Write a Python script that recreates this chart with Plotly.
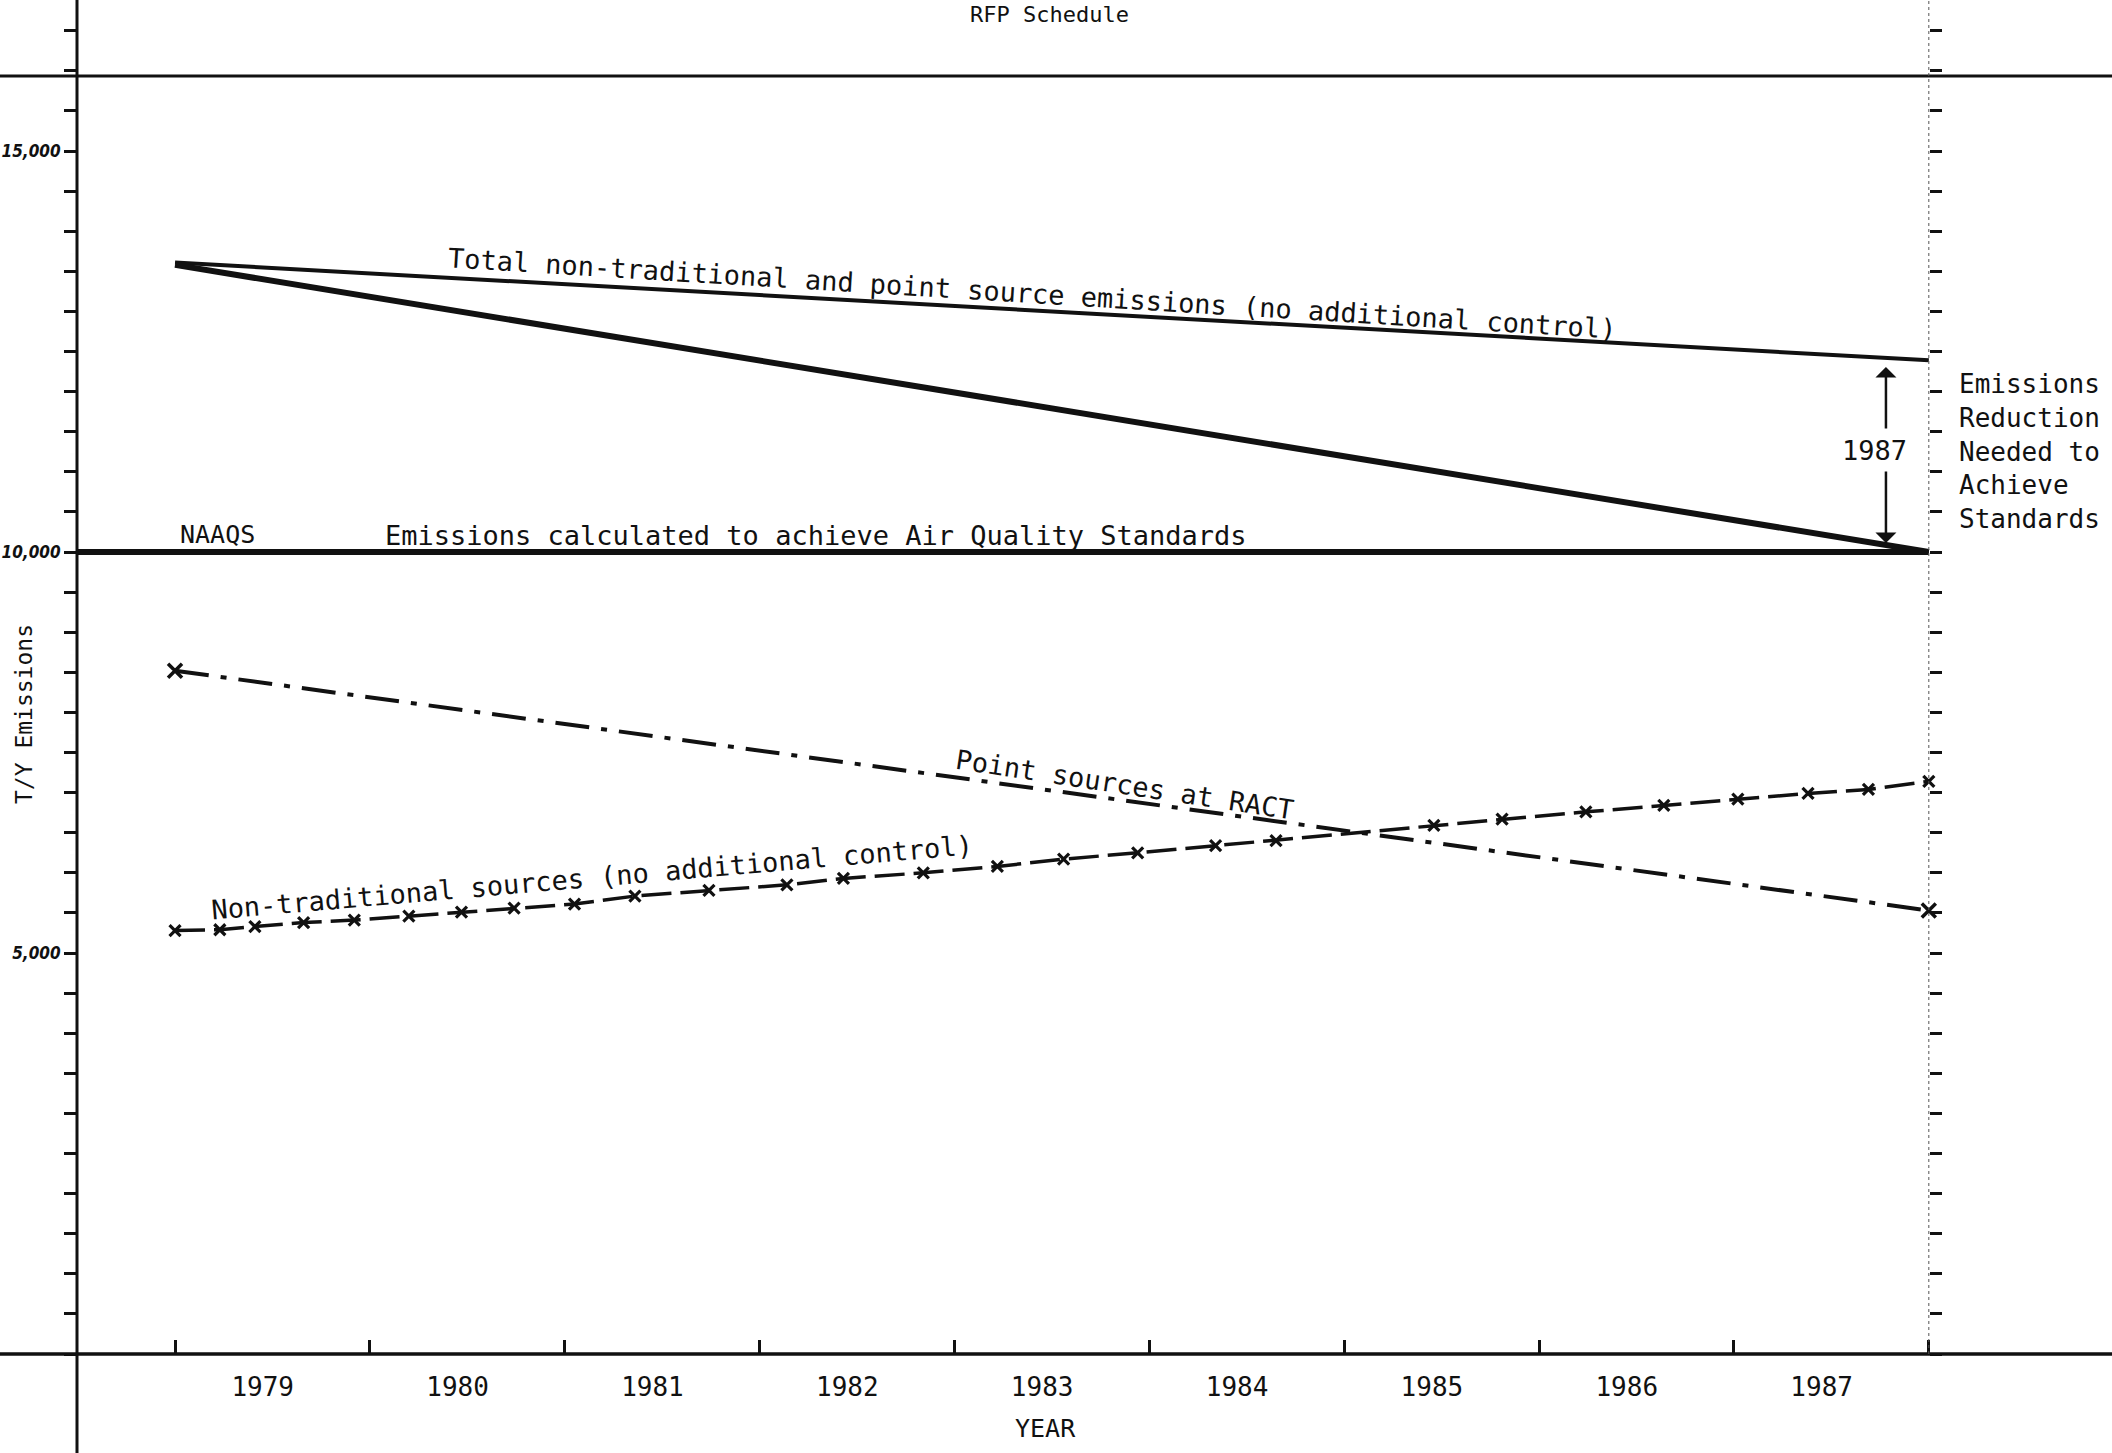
import plotly.graph_objects as go

# ---------------- data ----------------
line_years = [1979.0, 1988.0]
total_no_control = [13610, 12390]          # Total non-traditional + point sources
reduction_path = [13580, 10000]            # path to standards
naaqs_years = [1978.5, 1988.0]
naaqs_level = [10000, 10000]
point_ract_years = [1979.0, 1988.0]
point_ract = [8520, 5530]
nontrad_years = [1979.00, 1979.23, 1979.41, 1979.66, 1979.92, 1980.20, 1980.47, 1980.74,
                 1981.05, 1981.36, 1981.74, 1982.14, 1982.43, 1982.84, 1983.22, 1983.56,
                 1983.94, 1984.34, 1984.65, 1985.46, 1985.81, 1986.24, 1986.64, 1987.02,
                 1987.38, 1987.69, 1988.00]
nontrad = [5280, 5290, 5330, 5380, 5410, 5460, 5510, 5560, 5610, 5710, 5780, 5850, 5930,
           6000, 6080, 6170, 6250, 6340, 6400, 6590, 6670, 6760, 6840, 6920, 6990, 7040, 7140]

year_labels = ["1979", "1980", "1981", "1982", "1983", "1984", "1985", "1986", "1987"]
year_bounds = [1979, 1980, 1981, 1982, 1983, 1984, 1985, 1986, 1987, 1988]
y_tick_values = list(range(0, 17000, 500))
y_label_values = {5000: "5,000", 10000: "10,000", 15000: "15,000"}

# ---------------- layout constants ----------------
W, H = 2112, 1453
ML, MR, MT, MB = 77, 0, 0, 99
X_MIN, X_MAX = 1978.497, 1988.94
Y_MIN, Y_MAX = 0, 16883
TOP_FRAME = 15935
LABEL_OFFSET = 0.45
FONT = "DejaVu Sans Mono, Liberation Mono, monospace"
INK = "#111111"
TXT = 27

label_pos = [int(l) + LABEL_OFFSET for l in year_labels]

fig = go.Figure()

fig.add_trace(go.Scatter(x=line_years, y=total_no_control, mode="lines",
                         line=dict(color=INK, width=4), hoverinfo="skip"))
fig.add_trace(go.Scatter(x=line_years, y=reduction_path, mode="lines",
                         line=dict(color=INK, width=6), hoverinfo="skip"))
fig.add_trace(go.Scatter(x=naaqs_years, y=naaqs_level, mode="lines",
                         line=dict(color=INK, width=6), hoverinfo="skip"))
fig.add_trace(go.Scatter(x=point_ract_years, y=point_ract, mode="lines+markers",
                         line=dict(color=INK, width=4, dash="34px,12px,6px,12px"),
                         marker=dict(symbol="x-thin", size=14, line=dict(width=3.5, color=INK)),
                         hoverinfo="skip"))
fig.add_trace(go.Scatter(x=nontrad_years, y=nontrad, mode="lines+markers",
                         line=dict(color=INK, width=3.5, dash="30px,9px"),
                         marker=dict(symbol="x-thin", size=11, line=dict(width=3.2, color=INK)),
                         hoverinfo="skip"))
# invisible trace for label axis
fig.add_trace(go.Scatter(x=[X_MIN, X_MAX], y=[Y_MIN, Y_MIN], xaxis="x2", mode="lines",
                         line=dict(width=0), hoverinfo="skip", showlegend=False))

ann = []
def txt(x, y, s, angle=0, size=TXT, **kw):
    ann.append(dict(x=x, y=y, xref="x", yref="y", text=s, showarrow=False, textangle=angle,
                    font=dict(family=FONT, size=size, color=INK), **kw))

txt(1983.40, 13222, "Total non-traditional and point source emissions (no additional control)", 3.5)
txt(1979.22, 10216, "NAAQS", size=25)
txt(1982.29, 10200, "Emissions calculated to achieve Air Quality Standards")
txt(1983.87, 7095, "Point sources at RACT", 8.6)
txt(1981.14, 5940, "Non-traditional sources (no additional control)", -4.9)
txt(1987.72, 11272, "1987")
txt(1988.145, 11259, "Emissions<br>Reduction<br>Needed to<br>Achieve<br>Standards",
    xanchor="left", align="left", size=26)
txt(1983.49, Y_MAX, "RFP Schedule", size=22, yanchor="top")

# double arrow with a gap for the label
ARROW_X = 1987.78
ann.append(dict(x=ARROW_X, y=12307, ax=ARROW_X, ay=11521, xref="x", yref="y",
                axref="x", ayref="y", text="", showarrow=True, arrowhead=1,
                arrowsize=1.4, arrowwidth=2.5, arrowcolor=INK))
ann.append(dict(x=ARROW_X, y=10112, ax=ARROW_X, ay=11022, xref="x", yref="y",
                axref="x", ayref="y", text="", showarrow=True, arrowhead=1,
                arrowsize=1.4, arrowwidth=2.5, arrowcolor=INK))

plot_w = W - ML - MR
plot_h = H - MT - MB
ann.append(dict(x=(1045 - ML) / plot_w, y=-(1428 - (H - MB)) / plot_h, xref="paper", yref="paper",
                xanchor="center", yanchor="middle",
                text="YEAR", showarrow=False, font=dict(family=FONT, size=25, color=INK)))
ann.append(dict(x=-(ML - 24) / plot_w, y=(H - MB - 714) / plot_h, xref="paper", yref="paper",
                xanchor="center", yanchor="middle",
                text="T/Y Emissions", textangle=-90, showarrow=False,
                font=dict(family=FONT, size=23, color=INK)))

shapes = [
    # top frame line
    dict(type="line", xref="paper", yref="paper", x0=-ML / plot_w, x1=1,
         y0=TOP_FRAME / Y_MAX, y1=TOP_FRAME / Y_MAX, line=dict(color=INK, width=3)),
    # x axis baseline extended
    dict(type="line", xref="paper", yref="paper", x0=-ML / plot_w, x1=1, y0=0, y1=0,
         line=dict(color=INK, width=3.5)),
    # y axis line extended
    dict(type="line", xref="paper", yref="paper", x0=0, x1=0, y0=-MB / plot_h, y1=1,
         line=dict(color=INK, width=3)),
    # right dotted axis
    dict(type="line", xref="x", yref="paper", x0=1988, x1=1988, y0=0, y1=1,
         line=dict(color="#555555", width=1, dash="dot")),
]

fig.update_layout(
    width=W, height=H, margin=dict(l=ML, r=MR, t=MT, b=MB, autoexpand=False),
    paper_bgcolor="white", plot_bgcolor="white", showlegend=False,
    annotations=ann, shapes=shapes,
    xaxis=dict(range=[X_MIN, X_MAX], tickvals=year_bounds, ticktext=[""] * len(year_bounds),
               ticks="inside", ticklen=14, tickwidth=3, tickcolor=INK, automargin=False,
               showgrid=False, zeroline=False, showline=False),
    xaxis2=dict(range=[X_MIN, X_MAX], overlaying="x", anchor="y", side="bottom",
                tickvals=label_pos, ticktext=year_labels, ticks="outside", ticklen=10,
                tickcolor="rgba(0,0,0,0)", showgrid=False, zeroline=False, showline=False,
                automargin=False, tickfont=dict(family=FONT, size=26, color=INK)),
    yaxis=dict(range=[Y_MIN, Y_MAX], tickvals=y_tick_values,
               ticktext=[y_label_values.get(v, "") for v in y_tick_values],
               ticks="outside", ticklen=12, tickwidth=3, tickcolor=INK, automargin=False,
               showgrid=False, zeroline=False, showline=False,
               tickfont=dict(family="DejaVu Sans Condensed, Liberation Sans Narrow, sans-serif",
                             size=17, color=INK, weight="bold", style="italic")),
    yaxis2=dict(range=[Y_MIN, Y_MAX], overlaying="y", anchor="free", side="right",
                position=(1988 - X_MIN) / (X_MAX - X_MIN), automargin=False,
                tickvals=y_tick_values, ticks="outside", ticklen=12, tickwidth=3,
                tickcolor=INK, showticklabels=False, showgrid=False, zeroline=False,
                showline=False),
)
# dummy trace to activate yaxis2
fig.add_trace(go.Scatter(x=[X_MIN], y=[Y_MIN], yaxis="y2", mode="markers",
                         marker=dict(size=0, opacity=0), hoverinfo="skip"))

fig.write_html("out.html", config={"displayModeBar": False},
               post_script="document.body.style.margin='0';document.body.style.overflow='hidden';")
